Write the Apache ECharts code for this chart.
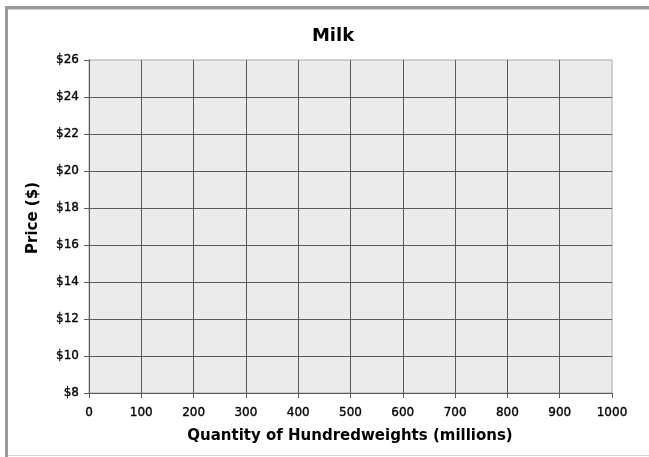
<!DOCTYPE html>
<html>
<head>
<meta charset="utf-8">
<script src="https://cdn.jsdelivr.net/npm/echarts@6/dist/echarts.min.js"></script>
<style>
  html, body { margin: 0; padding: 0; background: #fff; }
  #chart { width: 649px; height: 457px; }
</style>
</head>
<body>
<div id="chart"></div>
<script>
// Blank supply/demand worksheet for the milk market
const chartTitle = 'Milk';
const xAxisTitle = 'Quantity of Hundredweights (millions)';
const yAxisTitle = 'Price ($)';

// Axis ranges and steps
const quantityRange = [0, 1000];
const quantityStep = 100;
const priceRange = [8, 26];
const priceStep = 2;

// No curves plotted yet: the grid is left empty for students to draw on
const demandPoints = [];
const supplyPoints = [];

const FONT = 'DejaVu Sans, Verdana, sans-serif';
const gridLine = '#5a5a5a';

// slightly heavier tick text
const tickText = {
  fontFamily: FONT, fontSize: 12, color: '#000',
  textBorderColor: '#000', textBorderWidth: 0.35
};

const chart = echarts.init(document.getElementById('chart'), null, { renderer: 'canvas' });

chart.setOption({
  animation: false,
  backgroundColor: '#ffffff',
  grid: {
    left: 89, right: 37, top: 60, bottom: 64,
    show: true,
    backgroundColor: '#ebebeb',
    borderColor: '#a8a8a8',
    borderWidth: 1
  },
  xAxis: {
    type: 'value',
    min: quantityRange[0],
    max: quantityRange[1],
    interval: quantityStep,
    axisLine: { show: true, lineStyle: { color: gridLine, width: 1 } },
    axisTick: { show: true, inside: false, length: 5, lineStyle: { color: gridLine } },
    axisLabel: Object.assign({ margin: 14, formatter: v => String(v) }, tickText),
    splitLine: { show: true, showMinLine: false, showMaxLine: false, lineStyle: { color: gridLine, width: 1 } }
  },
  yAxis: {
    type: 'value',
    min: priceRange[0],
    max: priceRange[1],
    interval: priceStep,
    axisLine: { show: true, lineStyle: { color: gridLine, width: 1 } },
    axisTick: { show: true, inside: false, length: 5, lineStyle: { color: gridLine } },
    axisLabel: Object.assign({ margin: 10, formatter: v => '$' + v }, tickText),
    splitLine: { show: true, showMinLine: false, showMaxLine: false, lineStyle: { color: gridLine, width: 1 } }
  },
  series: [
    { name: 'Demand', type: 'line', data: demandPoints, symbol: 'none' },
    { name: 'Supply', type: 'line', data: supplyPoints, symbol: 'none' }
  ],
  graphic: [
    // page frame
    { type: 'rect', shape: { x: 5, y: 6, width: 650, height: 3 }, style: { fill: '#9a9a9a' }, silent: true },
    { type: 'rect', shape: { x: 5, y: 6, width: 3, height: 451 }, style: { fill: '#9a9a9a' }, silent: true },
    { type: 'rect', shape: { x: 8, y: 9, width: 647, height: 1 }, style: { fill: '#d0d0d0' }, silent: true },
    { type: 'rect', shape: { x: 8, y: 455, width: 647, height: 1 }, style: { fill: '#d4d4d4' }, silent: true },
    // chart title
    {
      type: 'text', z: 10,
      x: 333, y: 36,
      style: { text: chartTitle, font: 'bold 18px ' + FONT, fill: '#000', align: 'center', verticalAlign: 'middle' }
    },
    // axis titles
    {
      type: 'text', z: 10,
      x: 350, y: 436,
      style: { text: xAxisTitle, font: 'bold 15px ' + FONT, fill: '#000', align: 'center', verticalAlign: 'middle' }
    },
    {
      type: 'text', z: 10,
      x: 33, y: 218, rotation: Math.PI / 2,
      style: { text: yAxisTitle, font: 'bold 15px ' + FONT, fill: '#000', align: 'center', verticalAlign: 'middle' }
    }
  ]
});
</script>
</body>
</html>
